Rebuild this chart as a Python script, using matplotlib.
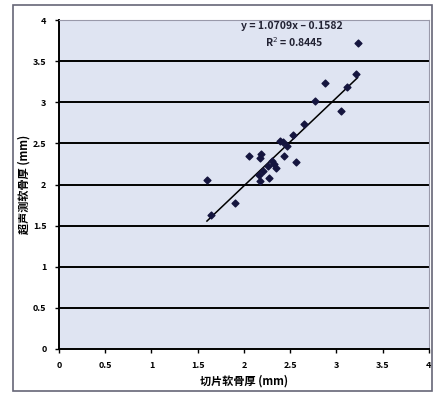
import matplotlib.pyplot as plt
import numpy as np

plt.rcParams['font.family'] = ['Noto Sans CJK SC', 'DejaVu Sans']

# data
x_vals = [3.23, 3.21, 3.12, 2.88, 2.77, 3.05, 2.65, 2.53, 2.39, 2.47, 2.43, 2.56,
          2.05, 2.18, 2.17, 2.30, 2.26, 2.35, 2.21, 2.16, 2.27, 2.17, 1.60, 1.90, 1.64,
          2.33, 2.42]
y_vals = [3.72, 3.34, 3.19, 3.24, 3.02, 2.90, 2.74, 2.60, 2.53, 2.47, 2.35, 2.27,
          2.35, 2.37, 2.32, 2.29, 2.22, 2.20, 2.16, 2.12, 2.08, 2.04, 2.05, 1.77, 1.63,
          2.25, 2.52]
slope = 1.0709
intercept = -0.1582
r2 = 0.8445
ticks = [0, 0.5, 1, 1.5, 2, 2.5, 3, 3.5, 4]
tick_labels = ['0', '0.5', '1', '1.5', '2', '2.5', '3', '3.5', '4']
x_label = '切片软骨厚 (mm)'
y_label = '超声测软骨厚 (mm)'

fig = plt.figure(figsize=(4.34, 3.96), dpi=100)
fig.patch.set_facecolor('white')
ax = fig.add_axes([0.136, 0.119, 0.852, 0.830])
ax.set_facecolor('#dfe4f2')

# outer frame like the Excel chart area
frame = plt.Rectangle((0.03, 0.012), 0.965, 0.975, transform=fig.transFigure,
                      fill=False, edgecolor='#666677', linewidth=1.2)
fig.patches.append(frame)

for t in ticks[1:]:
    ax.axhline(t, color='black', linewidth=1.4, zorder=1)

ax.scatter(x_vals, y_vals, marker='D', s=12, color='#15153f', zorder=3)

xs = np.array([min(x_vals), max(x_vals)])
ax.plot(xs, slope * xs + intercept, color='black', linewidth=1.1, zorder=2)

ax.text(2.52, 3.93, 'y = %.4fx – %.4f' % (slope, -intercept), ha='center', va='center',
        fontsize=7.5, fontweight='bold', color='#222233')
ax.text(2.55, 3.73, 'R$^2$ = %.4f' % r2, ha='center', va='center',
        fontsize=7.5, fontweight='bold', color='#222233')

ax.set_xlim(0, 4)
ax.set_ylim(0, 4)
ax.set_xticks(ticks)
ax.set_xticklabels(tick_labels, fontsize=6.5, fontweight='bold')
ax.set_yticks(ticks)
ax.set_yticklabels(tick_labels, fontsize=6.5, fontweight='bold')
ax.tick_params(length=3, width=1, pad=6)

for side in ['left', 'bottom']:
    ax.spines[side].set_color('black')
    ax.spines[side].set_linewidth(1.4)
for side in ['top', 'right']:
    ax.spines[side].set_color('#9999aa')
    ax.spines[side].set_linewidth(0.8)

ax.set_xlabel(x_label, fontsize=8, fontweight='bold', labelpad=3)
ax.set_ylabel(y_label, fontsize=8, fontweight='bold', labelpad=2)

fig.savefig('out.png', dpi=100)
